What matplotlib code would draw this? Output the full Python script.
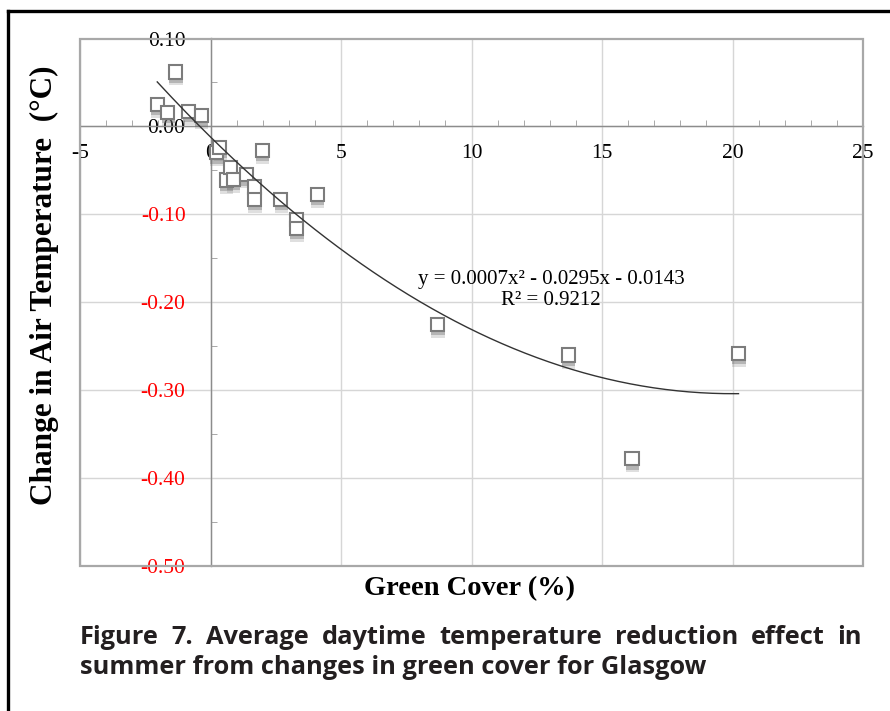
import numpy as np
import matplotlib
matplotlib.use('Agg')
import matplotlib.pyplot as plt
import matplotlib.patheffects as pe
from matplotlib.lines import Line2D
from matplotlib.patches import Rectangle
from matplotlib.ticker import MultipleLocator

plt.rcParams['font.family'] = ['Liberation Serif']
plt.rcParams['font.serif'] = ['Liberation Serif']

# data (green cover change %, air temperature change degC)
green_cover = [-2.04, -1.64, -1.34, -0.83, -0.36, 0.23, 0.36, 0.60, 0.77, 0.87,
               1.38, 1.69, 1.69, 1.98, 2.69, 3.30, 3.30, 4.09, 8.70, 13.71,
               16.15, 20.23]
temp_change = [0.025, 0.016, 0.062, 0.017, 0.012, -0.030, -0.024, -0.061, -0.047, -0.060,
               -0.055, -0.069, -0.083, -0.027, -0.083, -0.106, -0.116, -0.077, -0.225, -0.260,
               -0.378, -0.258]
# quadratic trendline as drawn (a, b, c)
trend_coefs = [0.00073, -0.0292, -0.012]

x_ticks = [-5, 0, 5, 10, 15, 20, 25]
y_ticks = [0.10, 0.00, -0.10, -0.20, -0.30, -0.40, -0.50]
equation_text = 'y = 0.0007x\u00b2 - 0.0295x - 0.0143\nR\u00b2 = 0.9212'
caption_line1 = 'Figure 7. Average daytime temperature reduction effect in'
caption_line2 = 'summer from changes in green cover for Glasgow'

W, H = 890, 711
fig = plt.figure(figsize=(W / 100, H / 100), dpi=100)
ax = fig.add_axes([80 / W, 1 - 566 / H, 783 / W, 527.5 / H])

ax.set_xlim(-5, 25)
ax.set_ylim(-0.5, 0.1)

# excel style axes crossing at zero, with a grey plot-area frame
ax.spines['top'].set_visible(False)
ax.spines['right'].set_visible(False)
for s in ['left', 'bottom']:
    ax.spines[s].set_position(('data', 0))
    ax.spines[s].set_color('#8c8c8c')
    ax.spines[s].set_linewidth(1.0)
ax.add_patch(Rectangle((0, 0), 1, 1, transform=ax.transAxes, fill=False,
                       edgecolor='#a8a8a8', lw=1.6, clip_on=False, zorder=3))

ax.grid(True, color='#d6d6d6', lw=1.0)
ax.set_axisbelow(True)

ax.set_xticks(x_ticks)
ax.set_xticklabels([str(v) for v in x_ticks])
ax.set_yticks(y_ticks)
ax.set_yticklabels([f'{v:.2f}' for v in y_ticks])
ax.xaxis.set_minor_locator(MultipleLocator(1))
ax.yaxis.set_minor_locator(MultipleLocator(0.05))
ax.tick_params(axis='both', which='major', length=0, labelsize=15.5)
ax.tick_params(axis='x', which='major', pad=13)
ax.tick_params(axis='y', which='major', pad=18)
ax.tick_params(axis='both', which='minor', direction='in', length=4, color='#9a9a9a')
for lbl in ax.get_xticklabels():
    lbl.set_fontfamily('Liberation Serif')
for v, lbl in zip(y_ticks, ax.get_yticklabels()):
    lbl.set_fontfamily('Liberation Serif')
    lbl.set_color('#ff0000' if v < 0 else 'black')

# scatter with soft drop shadow
shadow = [pe.SimplePatchShadow(offset=(0.3, -3), shadow_rgbFace='#606060', alpha=0.35),
          pe.SimplePatchShadow(offset=(0.3, -5), shadow_rgbFace='#808080', alpha=0.25),
          pe.Normal()]
ax.plot(green_cover, temp_change, ls='none', marker='s', ms=9.5, mfc='white',
        mec='#7c7c7c', mew=1.5, path_effects=shadow, zorder=4)

# 2nd order polynomial trendline over the data range
xs = np.linspace(min(green_cover), max(green_cover), 200)
ax.plot(xs, np.polyval(trend_coefs, xs), color='#333333', lw=1.0, zorder=5)

ax.text(0.6015, 0.523, equation_text, transform=ax.transAxes, ha='center', va='center',
        fontsize=15, linespacing=1.15, zorder=6)

ax.text(0.498, -0.042, 'Green Cover (%)', transform=ax.transAxes, ha='center', va='center',
        fontsize=20.5, fontweight='bold')
ax.text(-0.0460, 0.533, 'Change in Air Temperature  (\u00b0C)', transform=ax.transAxes,
        rotation=90, ha='center', va='center', fontsize=22.5, fontweight='bold')

# outer border lines
fig.add_artist(Line2D([8 / W, 8 / W], [0, 1 - 11 / H], transform=fig.transFigure,
                      color='black', lw=2.4))
fig.add_artist(Line2D([8 / W, 1], [1 - 11 / H, 1 - 11 / H], transform=fig.transFigure,
                      color='black', lw=2.4))

# caption, first line justified
cap_kw = dict(family='Open Sans', fontweight='bold', fontsize=18.3, color='#231f20',
              va='center', ha='left')
r = fig.canvas.get_renderer()
words = caption_line1.split(' ')
texts = [fig.text(0, 1 - 637 / H, w, **cap_kw) for w in words]
widths = [t.get_window_extent(r).width for t in texts]
gap = (782 - sum(widths)) / (len(words) - 1)
pos = 80
for t, w in zip(texts, widths):
    t.set_x(pos / W)
    pos += w + gap
fig.text(80 / W, 1 - 667 / H, caption_line2, **cap_kw)

fig.savefig('out.png', dpi=100)
